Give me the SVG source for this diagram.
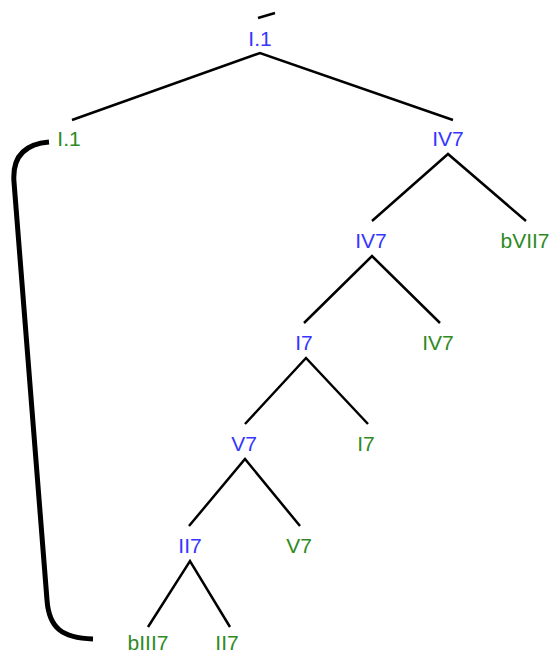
<svg xmlns="http://www.w3.org/2000/svg" width="553" height="655" viewBox="0 0 553 655">
<style>
text{font-family:"Liberation Sans",Arial,sans-serif;font-size:21px;text-anchor:middle}
.b{fill:#3636ff}
.g{fill:#2f8a1f}
.e{fill:none;stroke:#000;stroke-width:2.5;stroke-linejoin:miter}
</style>
<rect width="553" height="655" fill="#fff"/>
<g id="connectors">
<path class="e" d="M258,18 L275,13"/>
<polyline class="e" points="72,120 260,53 453,120"/>
<polyline class="e" points="372,221 448,154 526,221"/>
<polyline class="e" points="304,323 372,256 440,323"/>
<polyline class="e" points="245,424 306,358 368,424"/>
<polyline class="e" points="189,526 245,459 300,526"/>
<polyline class="e" points="148,627 190,561 230,627"/>
<path d="M49,142 C25,144 12,156 14,182 L47,600 C49,628 62,638 93,639" fill="none" stroke="#000" stroke-width="5"/>
</g>
<g id="n0"><text class="b" x="260" y="46">I.1</text></g>
<g id="n1"><text class="g" x="69" y="146">I.1</text></g>
<g id="n2"><text class="b" x="448" y="146">IV7</text></g>
<g id="n3"><text class="b" x="371" y="248">IV7</text></g>
<g id="n4"><text class="g" x="525" y="248">bVII7</text></g>
<g id="n5"><text class="b" x="304" y="350">I7</text></g>
<g id="n6"><text class="g" x="438" y="350">IV7</text></g>
<g id="n7"><text class="b" x="244" y="451">V7</text></g>
<g id="n8"><text class="g" x="366" y="451">I7</text></g>
<g id="n9"><text class="b" x="190" y="553">II7</text></g>
<g id="n10"><text class="g" x="299" y="553">V7</text></g>
<g id="n11"><text class="g" x="148" y="650">bIII7</text></g>
<g id="n12"><text class="g" x="227" y="650">II7</text></g>
</svg>
